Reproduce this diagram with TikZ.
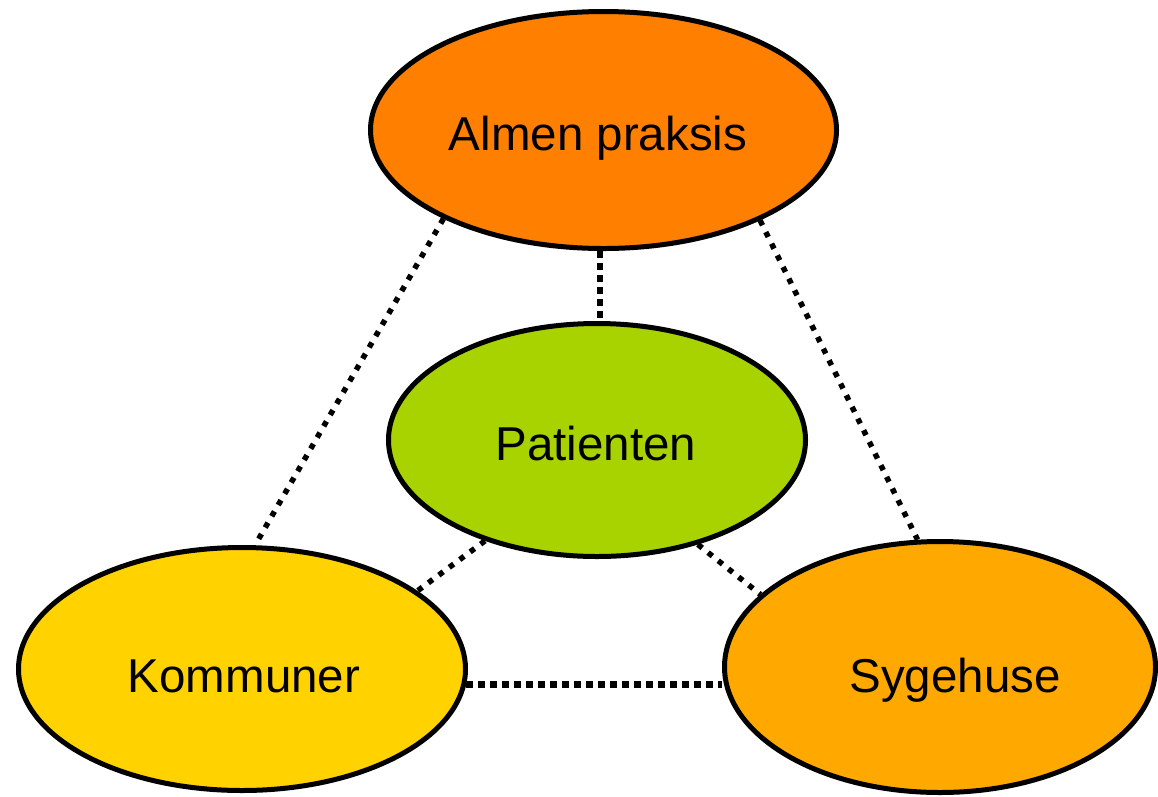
\documentclass[tikz,border=0pt]{standalone}
\usepackage{fontspec}
\setmainfont{Liberation Sans}
\usetikzlibrary{shapes.geometric}
\definecolor{cAlmen}{HTML}{FF7F00}
\definecolor{cPat}{HTML}{A8D200}
\definecolor{cKom}{HTML}{FFD200}
\definecolor{cSyg}{HTML}{FFA800}
\tikzset{
  blob/.style={ellipse, draw=black, line width=5pt, inner sep=0pt},
  lbl/.style={anchor=base, inner sep=0pt, font=\fontsize{47.5}{57}\selectfont},
  thinlink/.style={line width=5.5pt, dash pattern=on 5.5pt off 7.5pt},
  thicklink/.style={line width=6.5pt, dash pattern=on 6.5pt off 5.5pt},
}
\begin{document}
\begin{tikzpicture}[x=1pt,y=-1pt]
\useasboundingbox (0,0) rectangle (1158,796);
\node[blob, fill=cAlmen, minimum width=466pt, minimum height=237pt] (A) at (603.5,130) {};
\node[blob, fill=cPat, minimum width=417pt, minimum height=233pt] (P) at (597,440) {};
\node[blob, fill=cKom, minimum width=447pt, minimum height=243pt] (K) at (242,669) {};
\node[blob, fill=cSyg, minimum width=431pt, minimum height=251pt] (S) at (940,667) {};
\node[lbl] (At) at (598,150) {Almen praksis};
\node[lbl] (Pt) at (596,460) {Patienten};
\node[lbl] (Kt) at (244,692) {Kommuner};
\node[lbl] (St) at (955,692) {Sygehuse};
\draw[thicklink] ([xshift=-3.5pt]A.south) -- ([xshift=-3.5pt]A.south |- P.north);
\draw[thinlink] (A.209.8) -- (K.84);
\draw[thinlink] (A.330.5) -- (S.100.7);
\draw[thinlink] (P.222.6) -- (K.24.1);
\draw[thinlink] (P.314.4) -- (S.158.2);
\draw[thicklink] (K.-4.3) -- (K.-4.3 -| S.west);
\end{tikzpicture}
\end{document}
